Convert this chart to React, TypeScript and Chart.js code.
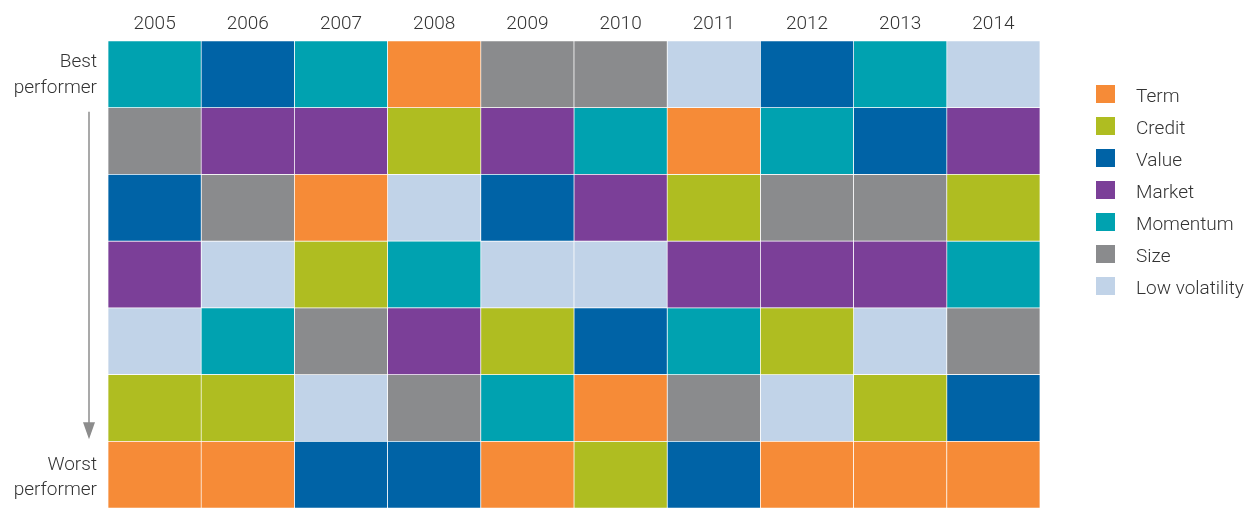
import React, { useEffect, useRef } from "react";
import { Chart, registerables } from "chart.js";

Chart.register(...registerables);

const years = ["2005", "2006", "2007", "2008", "2009", "2010", "2011", "2012", "2013", "2014"];

const factors = ["Term", "Credit", "Value", "Market", "Momentum", "Size", "Low volatility"];
const factorColors = ["#F68B37", "#AFBD21", "#0063A6", "#7B3F98", "#00A2B0", "#8A8B8D", "#C1D3E8"];

// Ranking per position (best -> worst), one entry per year
const rank1 = ["Momentum", "Value", "Momentum", "Term", "Size", "Size", "Low volatility", "Value", "Momentum", "Low volatility"];
const rank2 = ["Size", "Market", "Market", "Credit", "Market", "Momentum", "Term", "Momentum", "Value", "Market"];
const rank3 = ["Value", "Size", "Term", "Low volatility", "Value", "Market", "Credit", "Size", "Size", "Credit"];
const rank4 = ["Market", "Low volatility", "Credit", "Momentum", "Low volatility", "Low volatility", "Market", "Market", "Market", "Momentum"];
const rank5 = ["Low volatility", "Momentum", "Size", "Market", "Credit", "Value", "Momentum", "Credit", "Low volatility", "Size"];
const rank6 = ["Credit", "Credit", "Low volatility", "Size", "Momentum", "Term", "Size", "Low volatility", "Credit", "Value"];
const rank7 = ["Term", "Term", "Value", "Value", "Term", "Credit", "Value", "Term", "Term", "Term"];

const ranks = [rank1, rank2, rank3, rank4, rank5, rank6, rank7];

const FONT = "Roboto, 'Open Sans', sans-serif";
const TEXT = "#333333";
const WEIGHT = "300";

const overlayPlugin = {
  id: "overlay",
  afterDraw(chart: any) {
    const ctx = chart.ctx as CanvasRenderingContext2D;
    const y = chart.scales.y;
    const area = chart.chartArea;
    ctx.save();
    ctx.fillStyle = TEXT;
    ctx.font = `${WEIGHT} 19px ${FONT}`;
    ctx.textAlign = "right";
    ctx.textBaseline = "middle";
    const labelX = area.left - 11;
    const bestC = y.getPixelForValue(0.5);
    ctx.fillText("Best", labelX, bestC - 12);
    ctx.fillText("performer", labelX, bestC + 14);
    const worstC = y.getPixelForValue(6.5);
    ctx.fillText("Worst", labelX, worstC - 9);
    ctx.fillText("performer", labelX, worstC + 16);

    // arrow
    const ax = area.left - 19;
    const y0 = y.getPixelForValue(1) + 4;
    const y1 = y.getPixelForValue(6) - 2;
    ctx.strokeStyle = "#8C8C8C";
    ctx.fillStyle = "#8C8C8C";
    ctx.lineWidth = 1.5;
    ctx.beginPath();
    ctx.moveTo(ax, y0);
    ctx.lineTo(ax, y1 - 14);
    ctx.stroke();
    ctx.beginPath();
    ctx.moveTo(ax - 6, y1 - 17);
    ctx.lineTo(ax + 6, y1 - 17);
    ctx.lineTo(ax, y1);
    ctx.closePath();
    ctx.fill();

    // legend
    const lx = area.right + 56;
    const ly = 85;
    chart.data.datasets.forEach((ds: any, i: number) => {
      const top = ly + i * 32;
      ctx.fillStyle = ds.backgroundColor;
      ctx.fillRect(lx, top, 19, 18);
      ctx.fillStyle = TEXT;
      ctx.textAlign = "left";
      ctx.textBaseline = "middle";
      ctx.font = `${WEIGHT} 19px ${FONT}`;
      ctx.fillText(ds.label, lx + 40, top + 12.5);
    });
    ctx.restore();
  },
};

export default function App() {
  const ref = useRef<HTMLCanvasElement | null>(null);

  useEffect(() => {
    if (!ref.current) return;
    const datasets = factors.map((f, k) => ({
      label: f,
      data: years.map((_, i) => {
        const r = ranks.findIndex((row) => row[i] === f);
        return [r, r + 1];
      }),
      backgroundColor: factorColors[k],
      borderColor: "#FFFFFF",
      borderWidth: 0.7,
      borderSkipped: false,
      grouped: false,
      barPercentage: 1,
      categoryPercentage: 1,
    }));
    const chart = new Chart(ref.current, {
      type: "bar",
      data: { labels: years, datasets: datasets as any },
      options: {
        animation: false,
        responsive: false,
        maintainAspectRatio: false,
        layout: { padding: { left: 108, right: 208, top: 0, bottom: 0 } },
        plugins: {
          legend: { display: false },
          tooltip: { enabled: false },
        },
        scales: {
          x: {
            position: "top",
            grid: { display: false, drawTicks: false, tickLength: 0 },
            border: { display: false },
            ticks: { color: TEXT, font: { size: 19, family: FONT, weight: WEIGHT as any }, padding: 5 },
            afterFit: (s: any) => {
              s.height = 41;
            },
          },
          y: {
            display: false,
            min: 0,
            max: 7,
            reverse: true,
          },
        },
      },
      plugins: [overlayPlugin],
    });
    return () => chart.destroy();
  }, []);

  return (
    <div style={{ position: "absolute", left: 0, top: 0, width: 1248, height: 508, background: "#fff" }}>
      <canvas ref={ref} width={1248} height={508} />
    </div>
  );
}
